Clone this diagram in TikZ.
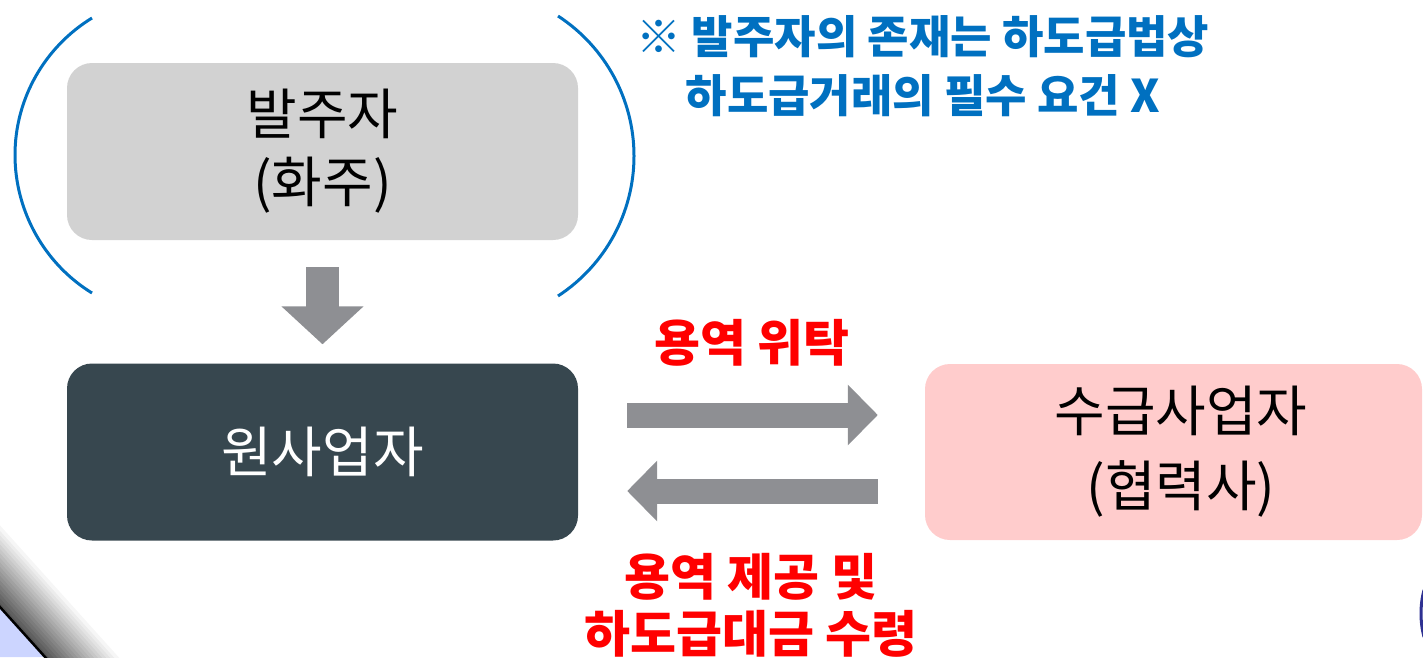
\documentclass[tikz,border=0pt]{standalone}
\usepackage{fontspec}
\setmainfont{Noto Sans CJK KR}
\usetikzlibrary{arrows.meta,calc}
\definecolor{boxgray}{HTML}{D2D2D2}
\definecolor{boxdark}{HTML}{37474F}
\definecolor{boxpink}{HTML}{FFCCCC}
\definecolor{arrowgray}{HTML}{8E8F93}
\definecolor{noteblue}{HTML}{0070C0}
\definecolor{labelred}{HTML}{FF0000}
\definecolor{cornerblue}{HTML}{CCD5FF}
\definecolor{arcnavy}{HTML}{2E3192}
\begin{document}
\begin{tikzpicture}[x=1pt,y=-1pt,
  partybox/.style={rounded corners=25pt, inner sep=0pt, align=center},
  boxlabel/.style={font=\fontsize{55}{68}\selectfont},
  redlabel/.style={font=\bfseries\fontsize{50}{57}\selectfont, text=labelred, align=center, inner sep=0pt},
  notelabel/.style={font=\bfseries\fontsize{45}{59}\selectfont, text=noteblue, align=center, inner sep=0pt},
  bracket/.style={draw=noteblue, line width=3pt},
  downflow/.style={draw=arrowgray, line width=33pt, -{Triangle[width=80pt,length=38pt]}},
  sideflow/.style={draw=arrowgray, line width=25pt, -{Triangle[width=59pt,length=30pt]}}
]
\useasboundingbox (0,0) rectangle (1423,657);

% bottom-left decoration
\begin{scope}
  \clip (0,0) rectangle (1423,657);
  \begin{scope}[shift={(0,607)}, rotate=-48]
    \foreach \i in {0,...,17} {
      \pgfmathsetmacro{\shade}{66*(1-\i/18)}
      \fill[black!\shade!white] (-120,-3*\i) rectangle (260,-3*\i-3.6);
    }
  \end{scope}
  \fill[cornerblue] (0,607) -- (45,657) -- (0,657) -- cycle;
  \draw[black, line width=2.5pt] (-5,601.5) -- (50,662.5);
\end{scope}

% bottom-right arc
\draw[arcnavy, line width=3pt] (1424,590) .. controls (1420,605) and (1420,622) .. (1424,637);

% boxes
\node[partybox, boxlabel, fill=boxgray, minimum width=511pt, minimum height=177pt] (client) at (322.5,151.5) {발주자\\(화주)};
\node[partybox, boxlabel, fill=boxdark, text=white, minimum width=511pt, minimum height=177pt] (prime) at (322.5,452) {원사업자};
\node[partybox, font=\fontsize{55}{75}\selectfont, fill=boxpink, minimum width=497pt, minimum height=176pt] (supp) at (1173.5,452) {\hspace*{15pt}수급사업자\\\hspace*{15pt}(협력사)};

% brackets around the client
\draw[bracket] (92,18) .. controls (44.3,47.3) and (15,99) .. (15,155)
               .. controls (15,211) and (44.3,263.7) .. (92,293);
\draw[bracket] (558,16) .. controls (605.3,46.8) and (634,99.5) .. (634,156)
               .. controls (634,212.5) and (605.3,265.2) .. (558,296);

% flows
\draw[downflow, shorten <=27pt, shorten >=19pt] (client.south) -- (prime.north);
\draw[sideflow] ([shift={(49,-37)}]prime.east) -- ([shift={(-47,-37)}]supp.west);
\draw[sideflow] ([shift={(-47,39)}]supp.west) -- ([shift={(49,39)}]prime.east);

% labels
\node[redlabel] (entrust) at (752,343) {용역 위탁};
\node[redlabel] (provide) at (751,605) {용역 제공 및\\하도급대금 수령};
\node[notelabel] (note) at (923,66) {※ 발주자의 존재는 하도급법상\\하도급거래의 필수 요건 X};
\end{tikzpicture}
\end{document}
